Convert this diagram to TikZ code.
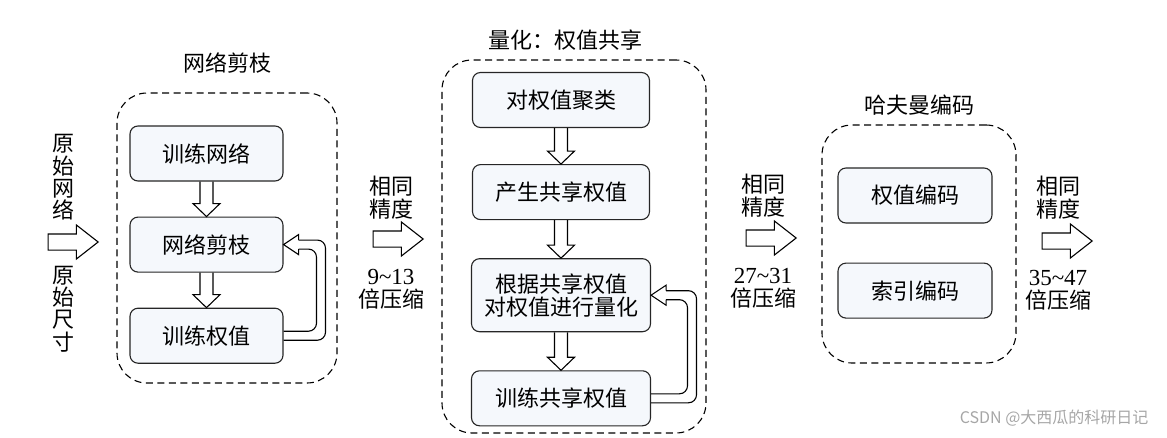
\documentclass[tikz,border=0pt]{standalone}
\usepackage{fontspec}
\setmainfont{Liberation Serif}
\newfontfamily\cjk{Noto Sans CJK SC}
\usepackage{tikz}
\usetikzlibrary{positioning,fit,shapes.arrows,calc}
\definecolor{boxfill}{RGB}{245,248,252}

% hollow block arrow from the bottom of one box to the top of the next
\newcommand{\downblk}[2]{%
  \draw[blockline] let \p1=(#1.south), \p2=(#2.north) in
    (\x1-6.5pt,\y1) -- (\x1-6.5pt,\y2+13pt) -- (\x1-13.5pt,\y2+13pt) -- (\x1,\y2)
    -- (\x1+13.5pt,\y2+13pt) -- (\x1+6.5pt,\y2+13pt) -- (\x1+6.5pt,\y1);}
% hollow feedback arrow, riser at x=#3
\newcommand{\loopblk}[3]{%
  \draw[blockline,rounded corners=8pt] let \p1=(#1.east), \p2=(#2.east) in
    (\x1,\y1+4.5pt) -- (#3pt-4.5pt,\y1+4.5pt) -- (#3pt-4.5pt,\y2-4.5pt) -- (\x2+15pt,\y2-4.5pt)
    (\x1,\y1-4.5pt) -- (#3pt+4.5pt,\y1-4.5pt) -- (#3pt+4.5pt,\y2+4.5pt) -- (\x2+15pt,\y2+4.5pt);
  \draw[blockline] let \p2=(#2.east) in
    (\x2+15pt,\y2+4.5pt) -- (\x2+15pt,\y2+10pt) -- (\x2,\y2) -- (\x2+15pt,\y2-10pt) -- (\x2+15pt,\y2-4.5pt);}
\newcommand{\num}[1]{{\rmfamily\fontsize{23}{23}\selectfont #1}}

\begin{document}
\begin{tikzpicture}
[ x=1pt, y=-1pt,
		every node/.style={font=\cjk\fontsize{22}{23}\selectfont},
		stepbox/.style={rectangle,rounded corners=8pt,draw=black!85,line width=1.1pt,fill=boxfill,minimum height=55pt,text centered},
		stagebox/.style={draw,dash pattern=on 7pt off 4.5pt,line width=1.1pt,rounded corners=30pt,inner sep=0pt},
		caption/.style={align=center,inner sep=0pt},
		gaparrow/.style={single arrow,draw,line width=1.1pt,minimum height=50pt,inner sep=7.5pt,single arrow head extend=9pt,single arrow tip angle=76},
		blockline/.style={line width=1.1pt}]

	\useasboundingbox (0,0) rectangle (1167,437);

	% stage 1: pruning
	\node[stepbox,minimum width=153pt] (train) at (206.5,153.5) {训练网络};
	\node[stepbox,minimum width=153pt] (prune) [below=35pt of train] {网络剪枝};
	\node[stepbox,minimum width=153pt] (retrain) [below=35pt of prune] {训练权值};
	\node[stagebox,fit={(117,93) (337,383)}] (prunestage) {};
	\node (prunetitle) [above=16pt of prunestage] {网络剪枝};

	% stage 2: weight sharing
	\node[stepbox,minimum width=177pt] (cluster) at (561,100) {对权值聚类};
	\node[stepbox,minimum width=177pt] (share) [below=36pt of cluster] {产生共享权值};
	\node[stepbox,minimum width=179pt,minimum height=73pt,align=center] (quant) [below=38pt of share] {根据共享权值\\对权值进行量化};
	\node[stepbox,minimum width=179pt] (retrain2) [below=38pt of quant] {训练共享权值};
	\node[stagebox,fit={(442,60) (706,433)}] (quantstage) {};
	\node (quanttitle) [above=6pt of quantstage,xshift=-9pt] {量化：权值共享};

	% stage 3: huffman coding
	\node[stepbox,minimum width=154pt] (wcode) at (915,195.5) {权值编码};
	\node[stepbox,minimum width=154pt] (icode) [below=39pt of wcode] {索引编码};
	\node[stagebox,fit={(822,125) (1016,363)}] (huffstage) {};
	\node (hufftitle) [above=6pt of huffstage] {哈夫曼编码};

	\downblk{train}{prune}
	\downblk{prune}{retrain}
	\downblk{cluster}{share}
	\downblk{share}{quant}
	\downblk{quant}{retrain2}
	\loopblk{retrain}{prune}{321}
	\loopblk{retrain2}{quant}{692}

	% input and results
	\node[caption,font=\cjk\fontsize{22}{22.3}\selectfont] (orignet) at (63,177.5) {原\\始\\网\\络};
	\node[gaparrow] (gapin) at (68,242) {};
	\node[caption,font=\cjk\fontsize{22}{22.3}\selectfont] (origsize) at (63,309) {原\\始\\尺\\寸};

	\node[gaparrow] (gapA) at (393,239) {};
	\node[caption] (precA) [above=11pt of gapA,xshift=-2pt] {相同\\精度};
	\node[caption] (ratioA) [below=21pt of gapA,xshift=-2pt] {\num{9\textasciitilde13}\\倍压缩};

	\node[gaparrow] (gapB) at (766,238) {};
	\node[caption] (precB) [above=12pt of gapB,xshift=-3pt] {相同\\精度};
	\node[caption] (ratioB) [below=21pt of gapB,xshift=-3pt] {\num{27\textasciitilde31}\\倍压缩};

	\node[gaparrow] (gapC) at (1062,241) {};
	\node[caption] (precC) [above=13pt of gapC,xshift=-4pt] {相同\\精度};
	\node[caption] (ratioC) [below=20pt of gapC,xshift=-4pt] {\num{35\textasciitilde47}\\倍压缩};

	\node[text=black!35,anchor=east,font=\cjk\fontsize{16}{18}\selectfont] (mark) at (1152,418) {CSDN @大西瓜的科研日记};
\end{tikzpicture}
\end{document}
